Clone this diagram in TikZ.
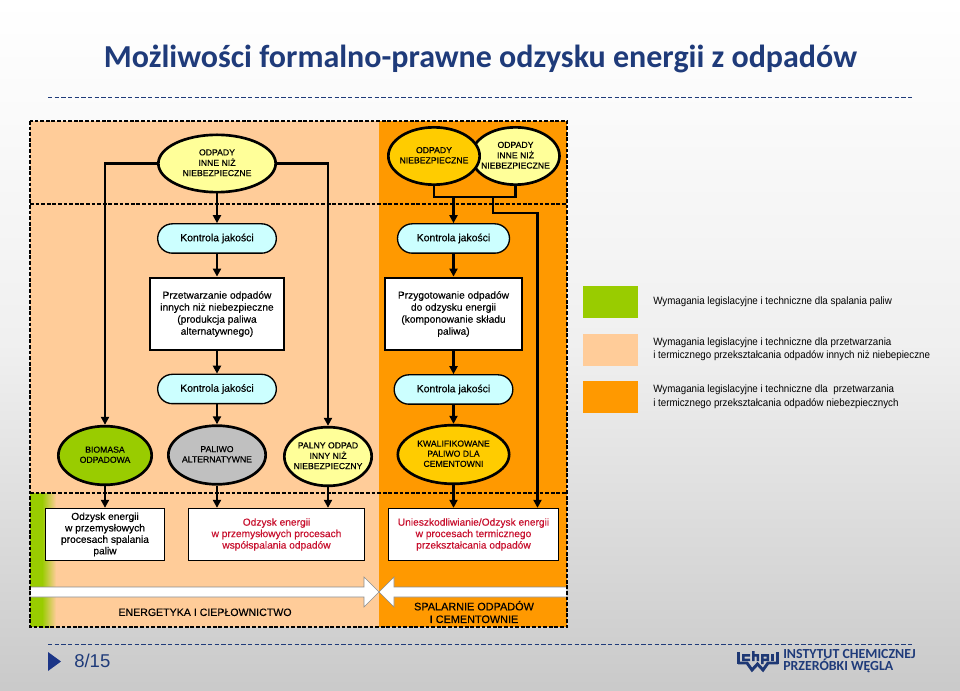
\documentclass[tikz,border=0pt]{standalone}
\usepackage{fontspec}
\setmainfont{Liberation Sans}
\newfontfamily\medf[RawFeature={embolden=0.3}]{Liberation Sans}
\newfontfamily\legf[FakeStretch=0.92]{Liberation Sans}
\newfontfamily\carl{Carlito}
\usetikzlibrary{shapes.geometric,arrows.meta,calc}
\definecolor{peach}{HTML}{FFCC99}
\definecolor{orng}{HTML}{FF9900}
\definecolor{lime}{HTML}{99CC00}
\definecolor{yel}{HTML}{FFFF99}
\definecolor{gold}{HTML}{FFCC00}
\definecolor{cyanb}{HTML}{CCFFFF}
\definecolor{grayb}{HTML}{C0C0C0}
\definecolor{navy}{HTML}{1F3B7A}
\definecolor{redt}{HTML}{C8102E}
\newcommand{\et}[1]{\smash{\makebox[0pt]{\raisebox{-0.25em}{\begin{tabular}{@{}c@{}}#1\end{tabular}}}}}
\tikzset{
 x=0.75pt,y=-0.75pt,
 ell/.style={ellipse,draw=black,line width=2pt,inner sep=0pt,font=\medf\fontsize{6.5}{7.6}\selectfont},
 kj/.style={rounded corners=11pt,draw=black,line width=1pt,fill=cyanb,inner sep=0pt,minimum width=89pt,minimum height=22pt,font=\medf\fontsize{7.8}{9}\selectfont},
 bx/.style={rectangle,draw=black,fill=white,inner sep=0pt,align=center},
 bxa/.style={bx,line width=1.6pt,font=\medf\fontsize{7.65}{9}\selectfont},
 bxb/.style={bx,line width=1pt,font=\medf\fontsize{7.65}{8.6}\selectfont,minimum height=39pt},
 flow/.style={line width=1.7pt,-{Triangle[length=6pt,width=6pt]}},
 flowp/.style={line width=1.7pt},
 dsh/.style={line width=1.5pt,dash pattern=on 2.8pt off 1.4pt},
 leg/.style={inner sep=0pt,anchor=west,align=left,text=black,font=\legf\fontsize{7.96}{10}\selectfont},
 swatch/.style={minimum width=41.25pt,minimum height=24pt,inner sep=0pt,draw=none},
 band/.style={align=center,inner sep=0pt},
 rule/.style={draw=navy,line width=0.6pt,dash pattern=on 3.2pt off 1.8pt},
 whitearrow/.style={fill=white,draw=black!45,line width=0.4pt},
}
\begin{document}
\begin{tikzpicture}
\useasboundingbox (0,0) rectangle (960,691);
\shade[top color=white,bottom color=black!21,middle color=black!6] (0,0) rectangle (960,691);

% title and rules
\node[text=navy,inner sep=0pt,font=\carl\bfseries\fontsize{24}{28}\selectfont] (title) at (480.5,59) {Możliwości formalno-prawne odzysku energii z odpadów};
\coordinate (r1a) at (48,97); \coordinate (r1b) at (912,97);
\coordinate (r2a) at (48,644); \coordinate (r2b) at (912,644);
\draw[rule] (r1a) -- (r1b);
\draw[rule] (r2a) -- (r2b);

% zones
\fill[peach] (30,121) rectangle (379,627);
\fill[orng] (379,121) rectangle (567,627);
\fill[lime] (30,493) rectangle (42,627);
\shade[left color=lime,right color=peach] (42,493) rectangle (56,627);

% white arrows
\draw[whitearrow] (30,587) -- (364,587) -- (364,577) -- (379,592) -- (364,607) -- (364,597) -- (30,597) -- cycle;
\draw[whitearrow] (567,587) -- (394,587) -- (394,577) -- (379,592) -- (394,607) -- (394,597) -- (567,597) -- cycle;

% nodes
\node[ell,fill=yel,minimum width=88pt,minimum height=43pt] (a) at (217,163.5) {\et{ODPADY\\INNE NIŻ\\NIEBEZPIECZNE}};
\node[ell,fill=yel,minimum width=66pt,minimum height=43pt] (c) at (515.5,156) {\et{ODPADY\\INNE NIŻ\\NIEBEZPIECZNE}};
\node[ell,fill=gold,minimum width=68.5pt,minimum height=43pt] (b) at (434,156) {\et{ODPADY\\NIEBEZPIECZNE}};

\node[kj] (k1) at (217,238.5) {Kontrola jakości};
\node[kj,minimum width=84pt] (k2) at (453.5,238.5) {Kontrola jakości};
\node[bxa,minimum width=101pt,minimum height=54.5pt] (p1) at (217,314) {Przetwarzanie odpadów\\innych niż niebezpieczne\\(produkcja paliwa\\alternatywnego)};
\node[bxa,minimum width=103pt,minimum height=54.5pt] (p2) at (453.5,314) {Przygotowanie odpadów\\do odzysku energii\\(komponowanie składu\\paliwa)};
\node[kj] (k3) at (217,389) {Kontrola jakości};
\node[kj] (k4) at (453.5,389.5) {Kontrola jakości};

\node[ell,fill=lime,minimum width=70pt,minimum height=44pt] (e1) at (105,455.5) {\et{BIOMASA\\ODPADOWA}};
\node[ell,fill=grayb,minimum width=73pt,minimum height=44pt] (e2) at (217,455) {\et{PALIWO\\ALTERNATYWNE}};
\node[ell,fill=yel,minimum width=65.5pt,minimum height=44pt] (e3) at (328,456.5) {\et{PALNY ODPAD\\INNY NIŻ\\NIEBEZPIECZNY}};
\node[ell,fill=gold,minimum width=83.5pt,minimum height=44pt] (e4) at (453.5,454.5) {\et{KWALIFIKOWANE\\PALIWO DLA\\CEMENTOWNI}};

\node[bxb,minimum width=89.5pt] (o1) at (105,534.5) {Odzysk energii\\w przemysłowych\\procesach spalania\\paliw};
\node[bxb,minimum width=132pt,text=redt] (o2) at (276.5,534.5) {Odzysk energii\\w przemysłowych procesach\\współspalania odpadów};
\node[bxb,minimum width=127.5pt,text=redt] (o3) at (473.5,534.5) {Unieszkodliwianie/Odzysk energii\\w procesach termicznego\\przekształcania odpadów};

\node[band,font=\medf\fontsize{7.95}{9.5}\selectfont] (l1) at (205,612.3) {ENERGETYKA I CIEPŁOWNICTWO};
\node[band,font=\medf\fontsize{8.15}{9.5}\selectfont] (l2) at (474,612) {SPALARNIE ODPADÓW\\I CEMENTOWNIE};

% dashed frame
\coordinate (fa) at (30,121); \coordinate (fb) at (567,627);
\coordinate (d1a) at (30,204); \coordinate (d1b) at (567,204);
\coordinate (d2a) at (30,493); \coordinate (d2b) at (567,493);
\draw[dsh] (fa) rectangle (fb);
\draw[dsh] (d1a) -- (d1b);
\draw[dsh] (d2a) -- (d2b);

% connectors
\coordinate (m) at (453.5,197);
\coordinate (n) at (493,197);
\coordinate (n2) at (493,213);
\coordinate (n3) at (537.5,213);
\draw[flow] (a) -- (k1);
\draw[flow] (k1) -- (p1);
\draw[flow] (p1) -- (k3);
\draw[flow] (k3) -- (e2);
\draw[flow] (a.west) -| (e1.north);
\draw[flow] (a.east) -| (e3.north);
\draw[flowp] (b.south) |- (c.south |- m) -- (c.south);
\draw[flow] (m) -- (k2);
\draw[flow] (k2) -- (p2);
\draw[flow] (p2) -- (k4);
\draw[flow] (k4) -- (e4);
\draw[flow] (n) -- (n2) -- (n3) -- (n3 |- o3.north);
\draw[flow] (e1) -- (o1);
\draw[flow] (e2) -- (e2.south |- o2.north);
\draw[flow] (e3) -- (e3.south |- o2.north);
\draw[flow] (e4) -- (e4.south |- o3.north);

% legend
\node[swatch,fill=lime] (s1) at (610.5,302) {};
\node[swatch,fill=peach] (s2) at (610.5,350) {};
\node[swatch,fill=orng] (s3) at (610.5,397) {};
\node[leg] (t1) at (653,301.5) {Wymagania legislacyjne i techniczne dla spalania paliw};
\node[leg] (t2) at (653,349) {Wymagania legislacyjne i techniczne dla przetwarzania\\i termicznego przekształcania odpadów innych niż niebepieczne};
\node[leg] (t3) at (653,396.7) {Wymagania legislacyjne i techniczne dla\ \ przetwarzania\\i termicznego przekształcania odpadów niebezpiecznych};

% footer
\fill[navy!90!blue] (48,652) -- (61,661.5) -- (48,671) -- cycle;
\node[text=navy,inner sep=0pt,anchor=west,font=\fontsize{13.9}{16}\selectfont] (pg) at (74,660.5) {8/15};
\node[text=navy,inner sep=0pt,anchor=west,align=left,font=\carl\bfseries\fontsize{10.4}{9}\selectfont] (logo) at (783,661) {INSTYTUT CHEMICZNEJ\\PRZERÓBKI WĘGLA};
% logo mark
\begin{scope}[navy!95!black]
\fill (737,652) rectangle (740,664);
\fill (742,654) rectangle (750,656.5) (742,654) rectangle (744.5,661) (742,658.7) rectangle (750,661);
\fill (752,651) rectangle (754.5,661) (752,654) rectangle (759,656.5) (756.7,654) rectangle (759,661);
\fill (761,654) rectangle (763.5,664) (761,654) rectangle (769,656.5) (766.7,654) rectangle (769,661) (761,658.7) rectangle (769,661);
\fill (771,654) rectangle (773.5,661);
\fill (775.5,652) rectangle (778.5,664);
\draw[line width=2.2pt,line join=miter] (738,663) -- (747,663) -- (752,670) -- (757.5,664) -- (763,670) -- (768,663) -- (778,663);
\end{scope}
\end{tikzpicture}
\end{document}
